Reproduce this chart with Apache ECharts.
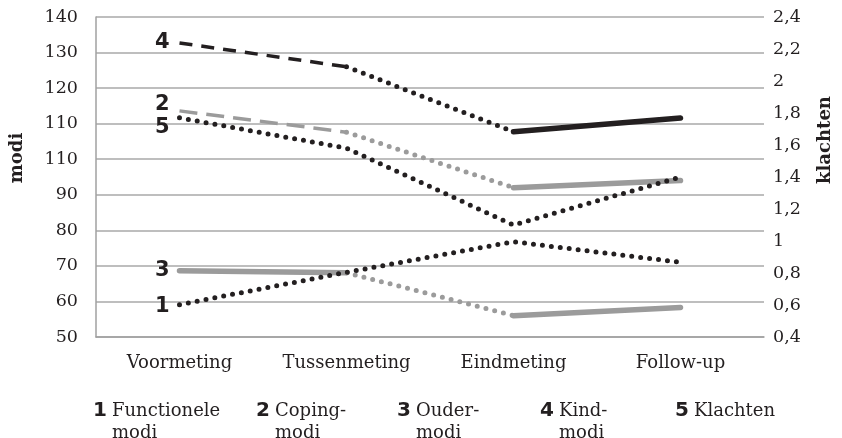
<!DOCTYPE html>
<html>
<head>
<meta charset="utf-8">
<script src="https://cdn.jsdelivr.net/npm/echarts@6/dist/echarts.min.js"></script>
<style>
  html, body { margin: 0; padding: 0; background: #fff; }
  #chart { width: 842px; height: 438px; }
</style>
</head>
<body>
<div id="chart"></div>
<script>
// data
var categories = ['Voormeting', 'Tussenmeting', 'Eindmeting', 'Follow-up'];
var functioneleModi = [59.1, 68.2, 76.8, 71];
var copingModi = [113.6, 107.6, 92, 94];
var ouderModi = [68.6, 68.1, 56, 58.3];
var kindModi = [132.7, 126, 107.7, 111.6];
var klachten = [1.77, 1.58, 1.1, 1.4];

var leftTickLabels = ['50', '60', '70', '80', '90', '110', '110', '120', '130', '140'];
var seriesNames = ['Functionele modi', 'Coping-modi', 'Ouder-modi', 'Kind-modi', 'Klachten'];
var legendNumbers = ['1', '2', '3', '4', '5'];
var legendLine1 = ['Functionele', 'Coping-', 'Ouder-', 'Kind-', 'Klachten'];
var legendLine2 = ['modi', 'modi', 'modi', 'modi', ''];
var legendLeft = [83, 246, 387, 530, 665];

var BLACK = '#231f20';
var GREY = '#9b9b9b';
var SERIF = '"DejaVu Serif", serif';

var DOT = {type: [0, 9], cap: 'round', width: 5};
var DASH_BLACK = {type: [13, 9], cap: 'butt', width: 3.5};
var DASH_GREY = {type: [18, 9], cap: 'butt', width: 3.5};
var SOLID = {type: 'solid', cap: 'round', width: 5.5};

// one piece of a line, from point a to point b
function seg(name, values, a, b, color, style, yAxis, mark, markPos) {
  var data = values.map(function (v, i) {
    if (i < a || i > b) return null;
    if (i === 0 && mark) {
      return {
        value: v,
        label: {
          show: true, formatter: mark, position: 'left', distance: 10,
          offset: markPos || [0, 0],
          fontFamily: '"DejaVu Sans", sans-serif', fontWeight: 'bold',
          fontSize: 21, color: BLACK
        }
      };
    }
    return v;
  });
  return {
    name: name,
    type: 'line',
    yAxisIndex: yAxis || 0,
    data: data,
    symbol: 'circle',
    symbolSize: 0,
    connectNulls: false,
    silent: true,
    itemStyle: {color: color},
    lineStyle: {color: color, width: style.width, type: style.type, cap: style.cap}
  };
}

var series = [
  seg(seriesNames[1], copingModi, 0, 1, GREY, DASH_GREY, 0, '2', [0, -6]),
  seg(seriesNames[1], copingModi, 1, 2, GREY, DOT),
  seg(seriesNames[1], copingModi, 2, 3, GREY, SOLID),
  seg(seriesNames[2], ouderModi, 0, 1, GREY, SOLID, 0, '3', [0, 0]),
  seg(seriesNames[2], ouderModi, 1, 2, GREY, DOT),
  seg(seriesNames[2], ouderModi, 2, 3, GREY, SOLID),
  seg(seriesNames[3], kindModi, 0, 1, BLACK, DASH_BLACK, 0, '4', [0, 0]),
  seg(seriesNames[3], kindModi, 1, 2, BLACK, DOT),
  seg(seriesNames[3], kindModi, 2, 3, BLACK, SOLID),
  seg(seriesNames[0], functioneleModi, 0, 3, BLACK, DOT, 0, '1', [0, 2]),
  seg(seriesNames[4], klachten, 0, 3, BLACK, DOT, 1, '5', [0, 10])
];

var legends = legendNumbers.map(function (n, i) {
  return {
    left: legendLeft[i],
    top: 396,
    orient: 'horizontal',
    data: [seriesNames[i]],
    icon: 'none',
    itemWidth: 0,
    itemHeight: 0,
    selectedMode: false,
    formatter: function () {
      return '{n|' + n + '}{t|' + legendLine1[i] + '}\n{p|}{t|' + legendLine2[i] + '}';
    },
    textStyle: {
      rich: {
        n: {fontFamily: '"DejaVu Sans", sans-serif', fontWeight: 'bold', fontSize: 20, color: BLACK, width: 19, lineHeight: 22},
        p: {width: 19, lineHeight: 22},
        t: {fontFamily: SERIF, fontSize: 18, color: BLACK, lineHeight: 22}
      }
    }
  };
});

var chart = echarts.init(document.getElementById('chart'));
chart.setOption({
  animation: false,
  backgroundColor: '#fff',
  legend: legends,
  grid: {left: 96, right: 69, top: 17, bottom: 101, containLabel: false},
  xAxis: {
    type: 'category',
    data: categories,
    boundaryGap: true,
    axisLine: {show: true, lineStyle: {color: '#a0a0a0', width: 1.5}},
    axisTick: {show: false},
    axisLabel: {fontFamily: SERIF, fontSize: 18, color: BLACK, margin: 17}
  },
  yAxis: [
    {
      type: 'value',
      min: 50, max: 140, interval: 10,
      name: 'modi',
      nameLocation: 'middle',
      nameGap: 70,
      nameRotate: 90,
      nameTextStyle: {fontFamily: SERIF, fontWeight: 'bold', fontSize: 18, color: BLACK, padding: [0, 0, 0, 38]},
      axisLine: {show: true, lineStyle: {color: '#a0a0a0', width: 1.5}},
      axisTick: {show: false},
      axisLabel: {
        fontFamily: SERIF, fontSize: 17.5, color: BLACK, margin: 18,
        formatter: function (v) { return leftTickLabels[Math.round((v - 50) / 10)]; }
      },
      splitLine: {show: true, lineStyle: {color: '#a8a8a8', width: 1.5}}
    },
    {
      type: 'value',
      min: 0.4, max: 2.4, interval: 0.2,
      name: 'klachten',
      nameLocation: 'middle',
      nameGap: 52,
      nameRotate: 90,
      nameTextStyle: {fontFamily: SERIF, fontWeight: 'bold', fontSize: 18, color: BLACK, padding: [0, 0, 0, 74]},
      axisLine: {show: false},
      axisTick: {show: false},
      axisLabel: {
        fontFamily: SERIF, fontSize: 17.5, color: BLACK, margin: 9,
        formatter: function (v) { return String(+v.toFixed(1)).replace('.', ','); }
      },
      splitLine: {show: false}
    }
  ],
  series: series
});
</script>
</body>
</html>
